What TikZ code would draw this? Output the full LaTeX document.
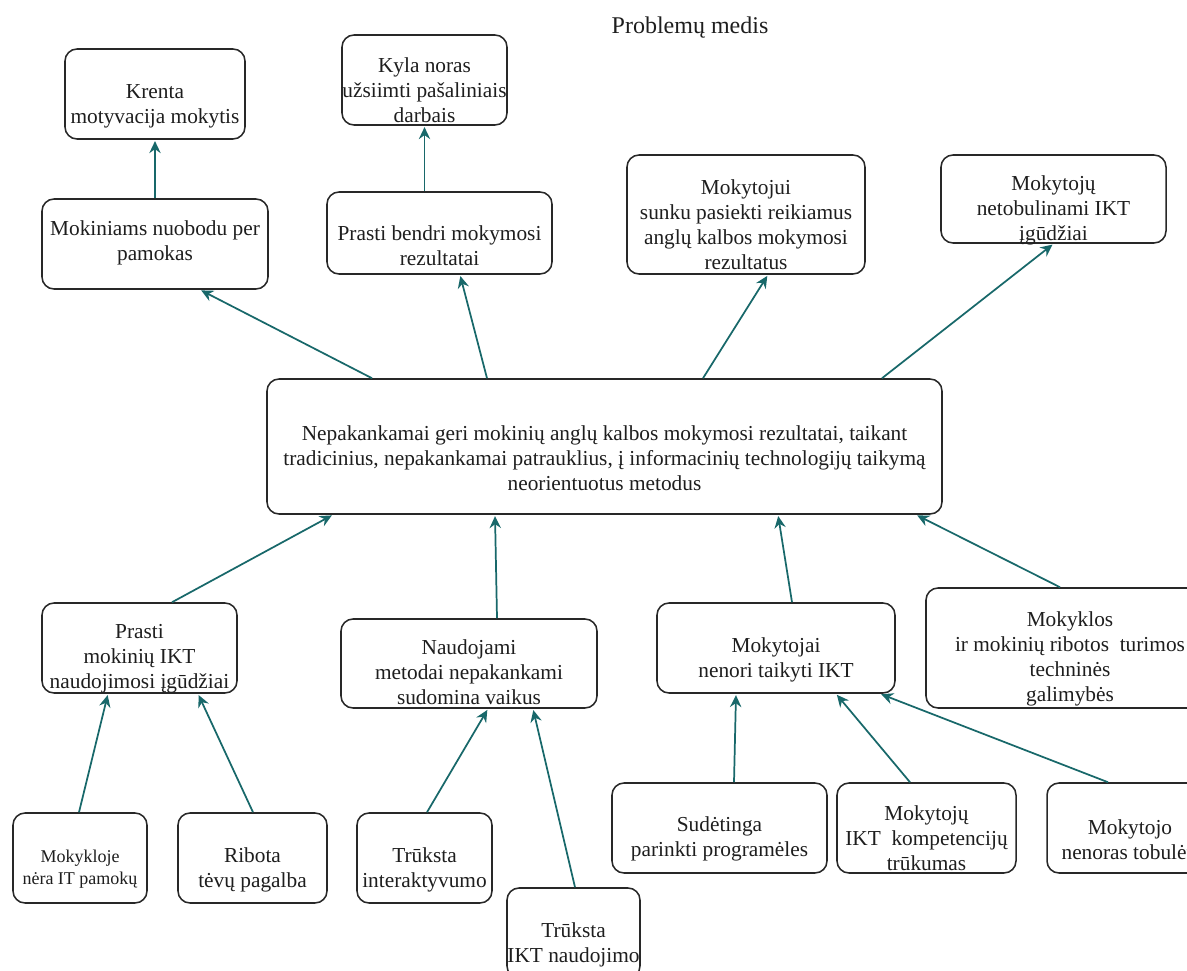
\documentclass[tikz,border=0pt]{standalone}
\usepackage{fontspec}
\setmainfont{Liberation Serif}
\usetikzlibrary{arrows.meta}
\definecolor{linkteal}{RGB}{24,104,106}
\definecolor{edgegray}{RGB}{40,40,40}
\definecolor{inkgray}{RGB}{30,30,30}
\begin{document}
\begin{tikzpicture}[x=0.75pt,y=-0.75pt,
  card/.style={draw=edgegray,line width=1.15pt,rounded corners=9pt,fill=white,inner sep=0pt},
  txt/.style={align=center,text=inkgray,inner sep=0pt,font=\fontsize{16}{18.8}\selectfont},
  smalltxt/.style={align=center,text=inkgray,inner sep=0pt,font=\fontsize{13.5}{16.5}\selectfont},
  arr/.style={draw=linkteal,line width=1.3pt,-{Stealth[length=9pt,width=8.5pt,inset=3pt]},shorten >=1pt}]
\useasboundingbox (0,0) rectangle (1187,970);
\clip (0,0) rectangle (1187,970);
\fill[white] (0,0) rectangle (1187,970);

% title
\node[text=inkgray,inner sep=0pt,font=\fontsize{18}{22}\selectfont] (title) at (690,28) {Problemų medis};

% effects
\node[card,minimum width=135pt,minimum height=67.5pt] (kr) at (155,94) {};
\node[txt] (krt) at (155,106) {Krenta\\motyvacija mokytis};
\node[card,minimum width=169.5pt,minimum height=67.5pt] (nb) at (155,244) {};
\node[txt] (nbt) at (155,243) {Mokiniams nuobodu per\\pamokas};
\node[card,minimum width=123.75pt,minimum height=67.5pt] (ky) at (424.5,80) {};
\node[txt] (kyt) at (424.5,90) {Kyla noras\\užsiimti pašaliniais\\darbais};
\node[card,minimum width=168.75pt,minimum height=61.5pt] (pb) at (439.5,233) {};
\node[txt] (pbt) at (439.5,246) {Prasti bendri mokymosi\\rezultatai};
\node[card,minimum width=178.5pt,minimum height=89.25pt] (mj) at (746,214.5) {};
\node[txt] (mjt) at (746,225) {Mokytojui\\sunku pasiekti reikiamus\\anglų kalbos mokymosi\\rezultatus};
\node[card,minimum width=168.75pt,minimum height=66pt] (nt) at (1053.5,199) {};
\node[txt] (ntt) at (1053.5,210) {Mokytojų\\netobulinami IKT\\įgūdžiai};

% core problem
\node[card,minimum width=506.25pt,minimum height=101.25pt] (ce) at (604.5,446.5) {};
\node[txt] (cet) at (604.5,458) {Nepakankamai geri mokinių anglų kalbos mokymosi rezultatai, taikant\\tradicinius, nepakankamai patrauklius, į informacinių technologijų taikymą\\neorientuotus metodus};

% causes
\node[card,minimum width=146.25pt,minimum height=67.5pt] (pm) at (139.5,648) {};
\node[txt] (pmt) at (139.5,659) {Prasti\\mokinių IKT\\naudojimosi įgūdžiai};
\node[card,minimum width=192pt,minimum height=66.75pt] (na) at (469,663.5) {};
\node[txt] (nat) at (469,672) {Naudojami\\metodai nepakankami\\sudomina vaikus};
\node[card,minimum width=178.5pt,minimum height=67.5pt] (mn) at (776,648) {};
\node[txt] (mnt) at (776,660) {Mokytojai\\nenori taikyti IKT};
\node[card,minimum width=216pt,minimum height=90pt] (mk) at (1070,648) {};
\node[txt] (mkt) at (1070,659) {Mokyklos\\ir mokinių ribotos~ turimos\\techninės\\galimybės};

% root causes
\node[card,minimum width=100.5pt,minimum height=67.5pt] (my) at (80,858) {};
\node[smalltxt] (myt) at (80,869) {Mokykloje\\nėra IT pamokų};
\node[card,minimum width=111.75pt,minimum height=67.5pt] (rb) at (252.5,858) {};
\node[txt] (rbt) at (252.5,870) {Ribota\\tėvų pagalba};
\node[card,minimum width=101.25pt,minimum height=67.5pt] (ti) at (424.5,858) {};
\node[txt] (tit) at (424.5,870) {Trūksta\\interaktyvumo};
\node[card,minimum width=99.75pt,minimum height=67.5pt] (tk) at (573.5,933) {};
\node[txt] (tkt) at (573.5,945) {Trūksta\\IKT naudojimo};
\node[card,minimum width=161.25pt,minimum height=67.5pt] (sd) at (719.5,828) {};
\node[txt] (sdt) at (719.5,839) {Sudėtinga\\parinkti programėles};
\node[card,minimum width=134.25pt,minimum height=67.5pt] (mi) at (926.5,828) {};
\node[txt] (mit) at (926.5,838) {Mokytojų\\IKT~ kompetencijų\\trūkumas};
\node[card,minimum width=124.5pt,minimum height=67.5pt] (mt) at (1130,828) {};
\node[txt] (mtt) at (1130,840) {Mokytojo\\nenoras tobulėti};

% connectors
\draw[arr] (nb.north) -- (kr.south);
\draw[arr] ([shift={(-15,0)}]pb.north) -- (ky.south);
\draw[arr] ([shift={(-232.5,0)}]ce.north) -- ([shift={(45,0)}]nb.south);
\draw[arr] ([shift={(-117.5,0)}]ce.north) -- ([shift={(20.5,0)}]pb.south);
\draw[arr] ([shift={(98.5,0)}]ce.north) -- ([shift={(22,0)}]mj.south);
\draw[arr] ([shift={(277.5,0)}]ce.north) -- (nt.south);
\draw[arr] ([shift={(32.5,0)}]pm.north) -- ([shift={(-271.5,0)}]ce.south);
\draw[arr] ([shift={(28,0)}]na.north) -- ([shift={(-109.5,0)}]ce.south);
\draw[arr] ([shift={(16,0)}]mn.north) -- ([shift={(173.5,0)}]ce.south);
\draw[arr] ([shift={(-10,0)}]mk.north) -- ([shift={(311.5,0)}]ce.south);
\draw[arr] ([shift={(-1,0)}]my.north) -- ([shift={(-31.5,0)}]pm.south);
\draw[arr] ([shift={(0.5,0)}]rb.north) -- ([shift={(58.5,0)}]pm.south);
\draw[arr] ([shift={(2.5,0)}]ti.north) -- ([shift={(19,0)}]na.south);
\draw[arr] ([shift={(1.5,0)}]tk.north) -- ([shift={(64,0)}]na.south);
\draw[arr] ([shift={(14.5,0)}]sd.north) -- ([shift={(-40,0)}]mn.south);
\draw[arr] ([shift={(-16.5,0)}]mi.north) -- ([shift={(60,0)}]mn.south);
\draw[arr] ([shift={(-22,0)}]mt.north) -- ([shift={(104,0)}]mn.south);
\end{tikzpicture}
\end{document}
